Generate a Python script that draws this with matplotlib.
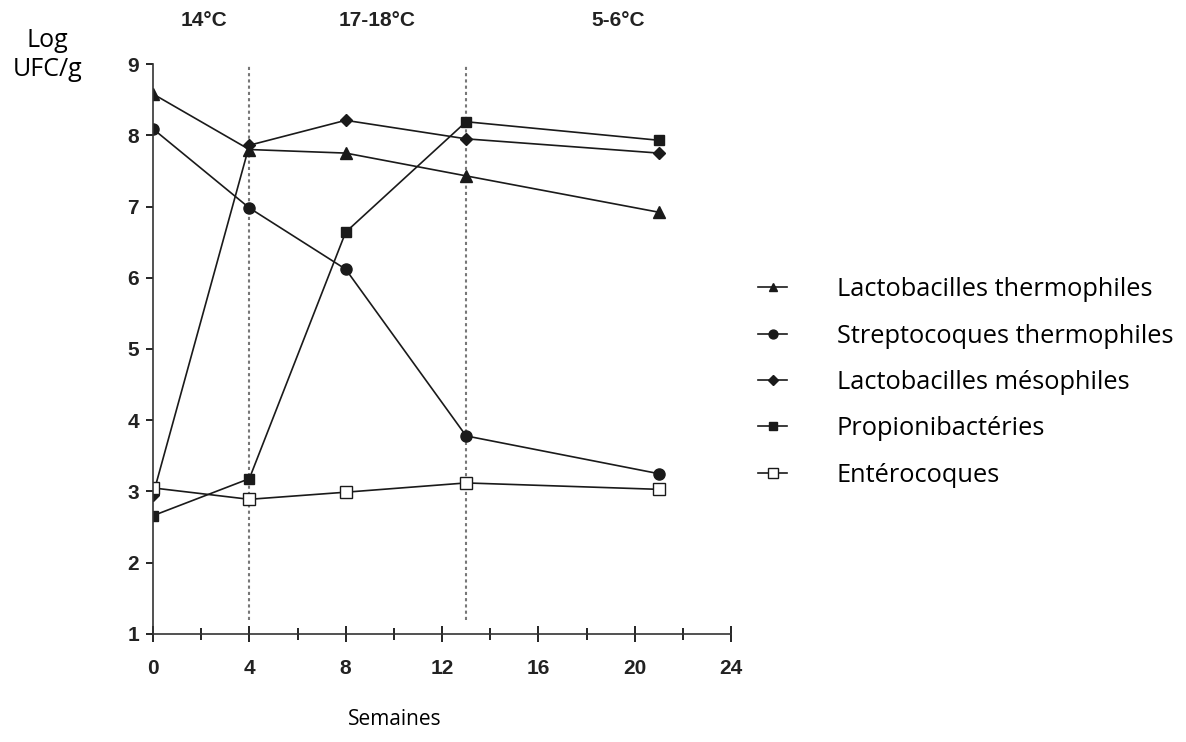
import matplotlib.pyplot as plt
from matplotlib.ticker import MultipleLocator

# semaines de prélèvement
weeks = [0, 4, 8, 13, 21]

lacto_thermo = [8.58, 7.80, 7.75, 7.43, 6.92]
strepto_thermo = [8.09, 6.98, 6.12, 3.78, 3.25]
lacto_meso = [2.95, 7.86, 8.21, 7.95, 7.75]
propioni = [2.66, 3.18, 6.64, 8.19, 7.93]
enteroc = [3.05, 2.89, 2.99, 3.12, 3.03]

labels = ["Lactobacilles thermophiles", "Streptocoques thermophiles",
          "Lactobacilles mésophiles", "Propionibactéries", "Entérocoques"]

temp_labels = ["14°C", "17-18°C", "5-6°C"]
temp_pos = [2.1, 9.3, 19.3]
phase_limits = [4, 13]

fig = plt.figure(figsize=(11.86, 7.42), dpi=100)
ax = fig.add_axes([0.129, 0.1456, 0.4874, 0.7681])

ax.plot(weeks, lacto_thermo, '-^', color='#1a1a1a', lw=1.2, ms=8, label=labels[0])
ax.plot(weeks, strepto_thermo, '-o', color='#1a1a1a', lw=1.2, ms=8, label=labels[1])
ax.plot(weeks, lacto_meso, '-D', color='#1a1a1a', lw=1.2, ms=6, label=labels[2])
ax.plot(weeks, propioni, '-s', color='#1a1a1a', lw=1.2, ms=6.5, label=labels[3])
ax.plot(weeks, enteroc, '-s', color='#1a1a1a', mfc='white', lw=1.2, ms=9, label=labels[4])

for xv in phase_limits:
    ax.plot([xv, xv], [1.2, 9], ls=(0, (1.5, 1.5)), color='#777777', lw=1.5, zorder=0)

ax.set_xlim(0, 24)
ax.set_ylim(1, 9)
ax.set_xticks(range(0, 25, 4))
ax.xaxis.set_minor_locator(MultipleLocator(2))
ax.set_yticks(range(1, 10))

for s in ['top', 'right']:
    ax.spines[s].set_visible(False)
for s in ['left', 'bottom']:
    ax.spines[s].set_linewidth(1.2)
    ax.spines[s].set_color('#333333')

ax.tick_params(axis='x', which='major', direction='inout', length=12, width=1.2, pad=12)
ax.tick_params(axis='x', which='minor', direction='inout', length=9, width=1.2)
ax.tick_params(axis='y', direction='out', length=5, width=1.2, pad=5)
for t in ax.get_xticklabels() + ax.get_yticklabels():
    t.set_fontfamily('Liberation Sans')
    t.set_fontweight('bold')
    t.set_fontsize(15)
    t.set_color('#222222')

for lab, xp in zip(temp_labels, temp_pos):
    ax.text(xp, 1.077, lab, transform=ax.get_xaxis_transform(), ha='center', va='center',
            fontsize=15, fontweight='bold', family='Liberation Sans', color='#222222')

fig.text(0.04, 0.926, "Log\nUFC/g", ha='center', va='center', fontsize=18,
         family='Open Sans', linespacing=1.25)
fig.text(0.333, 0.03, "Semaines", ha='center', va='center', fontsize=15, family='Open Sans')

leg = fig.legend(loc='center left', bbox_to_anchor=(0.62, 0.4845), frameon=False,
                 prop={'family': 'Open Sans', 'size': 18.3}, handlelength=1.15,
                 handletextpad=1.95, labelspacing=0.84, markerscale=0.8)

fig.savefig('out.png', dpi=100)
